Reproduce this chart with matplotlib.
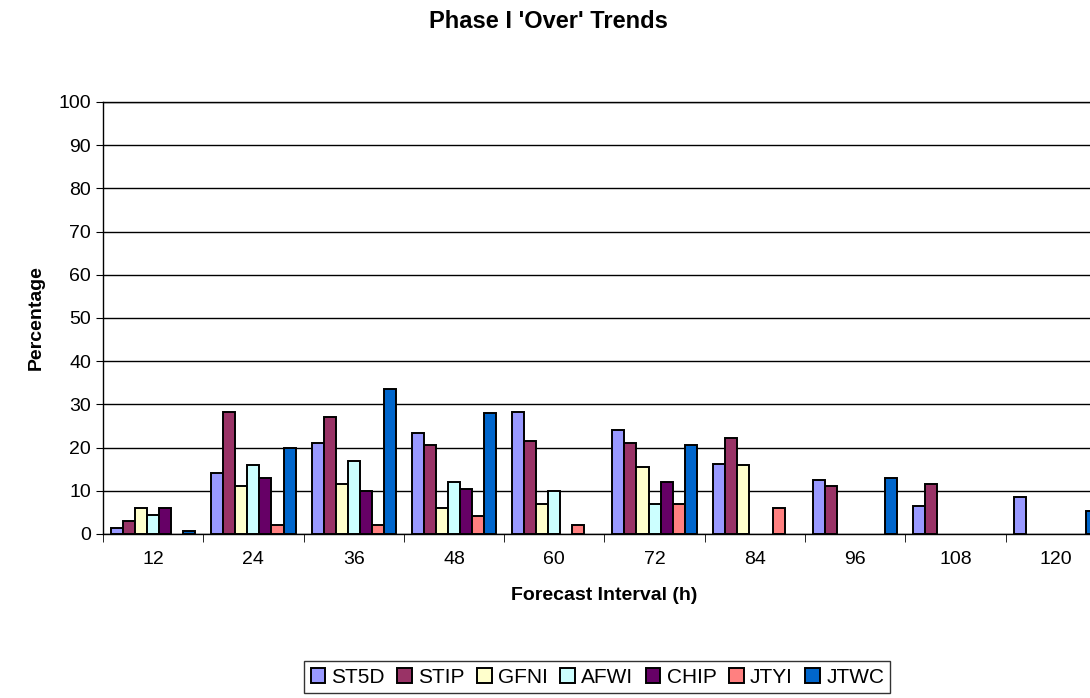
import matplotlib.pyplot as plt
import numpy as np

plt.rcParams["font.family"] = "Liberation Sans"

nan = np.nan
intervals = ["12", "24", "36", "48", "60", "72", "84", "96", "108", "120"]
st5d = [1.3, 14.2, 21.0, 23.3, 28.3, 24.0, 16.3, 12.5, 6.5, 8.5]
stip = [3.0, 28.3, 27.0, 20.5, 21.5, 21.0, 22.3, 11.2, 11.6, nan]
gfni = [6.0, 11.2, 11.6, 6.0, 7.0, 15.5, 16.0, nan, nan, nan]
afwi = [4.5, 16.0, 16.8, 12.0, 10.0, 7.0, nan, nan, nan, nan]
chip = [6.0, 13.0, 10.0, 10.3, nan, 12.0, nan, nan, nan, nan]
jtyi = [nan, 2.0, 2.0, 4.2, 2.0, 7.0, 6.0, nan, nan, nan]
jtwc = [0.8, 19.8, 33.5, 28.0, nan, 20.7, nan, 13.0, nan, 5.3]

series = [("ST5D", st5d, "#9999ff"), ("STIP", stip, "#993366"),
          ("GFNI", gfni, "#ffffcc"), ("AFWI", afwi, "#ccffff"),
          ("CHIP", chip, "#660066"), ("JTYI", jtyi, "#ff8080"),
          ("JTWC", jtwc, "#0066cc")]

fig = plt.figure(figsize=(10.9, 6.98), dpi=100)
ax = fig.add_axes([0.0945, 0.235, 0.92, 0.619])
x = np.arange(len(intervals))
w = 0.12
for i, (name, vals, col) in enumerate(series):
    ax.bar(x + (i - 3) * w, vals, w, color=col, edgecolor="black", linewidth=1.4, label=name, zorder=3)

ax.set_ylim(0, 100)
ax.set_yticks(range(0, 101, 10))
ax.set_xlim(-0.5, len(intervals) - 0.5)
ax.set_xticks(x)
ax.set_xticklabels(intervals)
ax.set_xticks(np.arange(-0.5, len(intervals), 1), minor=True)
ax.tick_params(axis="x", which="major", length=0, pad=12)
ax.tick_params(axis="x", which="minor", length=6)
ax.tick_params(axis="y", length=5, labelsize=14)
ax.tick_params(axis="x", labelsize=14)
ax.yaxis.grid(True, color="black", linewidth=1, zorder=0)
for s in ax.spines.values():
    s.set_linewidth(1)
ax.set_xlabel("Forecast Interval (h)", fontsize=14, fontweight="bold", labelpad=14)
ax.set_ylabel("Percentage", fontsize=14, fontweight="bold", labelpad=10)
fig.suptitle("Phase I 'Over' Trends", fontsize=17, fontweight="bold", x=0.503, y=0.985)
leg = fig.legend(loc="center", bbox_to_anchor=(0.548, 0.03), ncol=7, fontsize=15,
                 frameon=True, fancybox=False, edgecolor="black", handlelength=0.7,
                 handletextpad=0.3, columnspacing=0.6, borderpad=0.3)
fig.savefig("out.png", dpi=100)
